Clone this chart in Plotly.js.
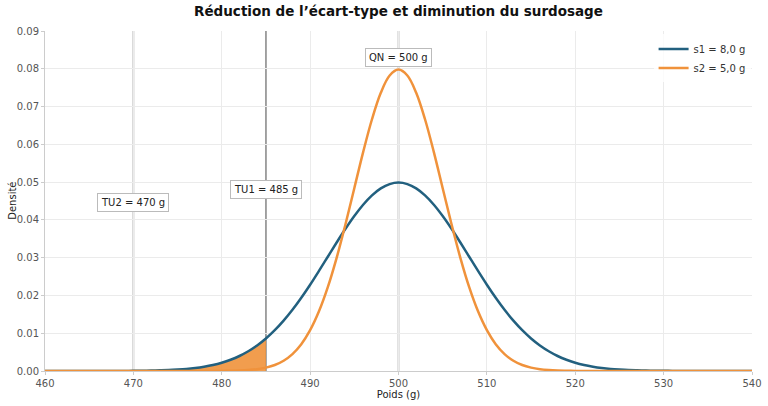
<!DOCTYPE html>
<html><head><meta charset="utf-8">
<script src="https://cdn.plot.ly/plotly-3.0.1.min.js"></script>
<style>html,body{margin:0;padding:0;background:#fff}#c{width:768px;height:406px}</style>
</head><body><div id="c"></div>
<script>
// Poids (g)
var poids = [];
for (var p = 460; p <= 540; p++) poids.push(p);
// Densité, s1 = 8,0 g (460..540 step 1)
var densS1 = [0,0,0,0,0,0,0.00001,0.00001,0.00002,0.00003,
  0.00004,0.00007,0.00011,0.00017,0.00025,0.00038,0.00055,0.00080,0.00114,0.00159,
  0.00219,0.00297,0.00397,0.00522,0.00675,0.00860,0.01079,0.01332,0.01619,0.01938,
  0.02283,0.02649,0.03025,0.03401,0.03764,0.04102,0.04401,0.04648,0.04833,0.04948,
  0.04987,
  0.04948,0.04833,0.04648,0.04401,0.04102,0.03764,0.03401,0.03025,0.02649,0.02283,
  0.01938,0.01619,0.01332,0.01079,0.00860,0.00675,0.00522,0.00397,0.00297,0.00219,
  0.00159,0.00114,0.00080,0.00055,0.00038,0.00025,0.00017,0.00011,0.00007,0.00004,
  0.00003,0.00002,0.00001,0.00001,0,0,0,0,0,0];
// Densité, s2 = 5,0 g
var densS2 = [0,0,0,0,0,0,0,0,0,0,
  0,0,0,0,0,0,0,0,0.00001,0.00001,
  0.00003,0.00006,0.00012,0.00025,0.00048,0.00089,0.00158,0.00272,0.00448,0.00709,
  0.01080,0.01579,0.02218,0.02995,0.03884,0.04839,0.05794,0.06664,0.07365,0.07821,
  0.07979,
  0.07821,0.07365,0.06664,0.05794,0.04839,0.03884,0.02995,0.02218,0.01579,0.01080,
  0.00709,0.00448,0.00272,0.00158,0.00089,0.00048,0.00025,0.00012,0.00006,0.00003,
  0.00001,0.00001,0,0,0,0,0,0,0,0,
  0,0,0,0,0,0,0,0,0,0];
// reference lines
var refNames = ['TU2 = 470 g','TU1 = 485 g','QN = 500 g'];
var refX = [470,485,500];
var refLabelY = [0.0445,0.048,0.083];
var tu1 = 485;
var yTitle = 'Densité';

var blue = '#22607f', orange = '#f0923b';
var fillX = [], fillY = [];
for (var i = 0; i < poids.length; i++) { if (poids[i] <= tu1) { fillX.push(poids[i]); fillY.push(densS1[i]); } }

var traces = [
  {x: fillX, y: fillY, type:'scatter', mode:'lines', fill:'tozeroy', fillcolor:'rgba(240,146,59,0.9)',
   line:{width:0, shape:'spline'}, showlegend:false, hoverinfo:'skip'},
  {x: poids, y: densS1, type:'scatter', mode:'lines', name:'s1 = 8,0 g', line:{color:blue, width:2.5, shape:'spline'}},
  {x: poids, y: densS2, type:'scatter', mode:'lines', name:'s2 = 5,0 g', line:{color:orange, width:2.5, shape:'spline'}}
];

var shapes = refX.map(function(v, k){
  return {type:'line', xref:'x', yref:'paper', x0:v, x1:v, y0:0, y1:1,
          line:{color: k===1 ? '#999999' : '#b8b8b8', width:1.8}, layer:'below'};
});
var annotations = refX.map(function(v, k){
  return {x:v, y:refLabelY[k], xref:'x', yref:'y', text:refNames[k], showarrow:false,
          font:{family:'DejaVu Sans', size:10, color:'#222'}, bgcolor:'#ffffff',
          bordercolor:'#bbbbbb', borderwidth:1, borderpad:3};
});
annotations.push({xref:'paper', yref:'paper', x:-0.047, y:0.5, xanchor:'center', yanchor:'middle',
  text:yTitle, textangle:-90, showarrow:false, font:{family:'DejaVu Sans', size:10, color:'#222'}});

var layout = {
  width:768, height:406,
  margin:{l:45, r:16, t:31, b:35},
  paper_bgcolor:'#fff', plot_bgcolor:'#fff',
  font:{family:'DejaVu Sans', size:10, color:'#555'},
  title:{text:'<b>Réduction de l’écart-type et diminution du surdosage</b>', xref:'paper', x:0.5, xanchor:'center', y:0.985, yanchor:'top',
         font:{family:'DejaVu Sans', size:13.5, color:'#111'}},
  xaxis:{range:[460,540], dtick:10, tick0:460, showgrid:true, gridcolor:'#ebebeb', gridwidth:1,
         showline:true, linecolor:'#cccccc', linewidth:1, ticks:'outside', ticklen:3, tickcolor:'#cccccc',
         zeroline:false, tickfont:{size:10, color:'#555'},
         title:{text:'Poids (g)', font:{size:10, color:'#222'}, standoff:1}},
  yaxis:{range:[0,0.09], dtick:0.01, tickformat:'.2f', showgrid:true, gridcolor:'#ebebeb', gridwidth:1,
         showline:true, linecolor:'#cccccc', linewidth:1, ticks:'outside', ticklen:3, tickcolor:'#cccccc',
         zeroline:false, tickfont:{size:10, color:'#555'}},
  legend:{x:0.998, xanchor:'right', y:0.99, yanchor:'top', bgcolor:'rgba(255,255,255,0.8)', borderwidth:0,
          font:{size:10, color:'#333'}, itemwidth:30},
  shapes:shapes, annotations:annotations, showlegend:true
};
Plotly.newPlot('c', traces, layout, {staticPlot:true, displayModeBar:false});
</script></body></html>
